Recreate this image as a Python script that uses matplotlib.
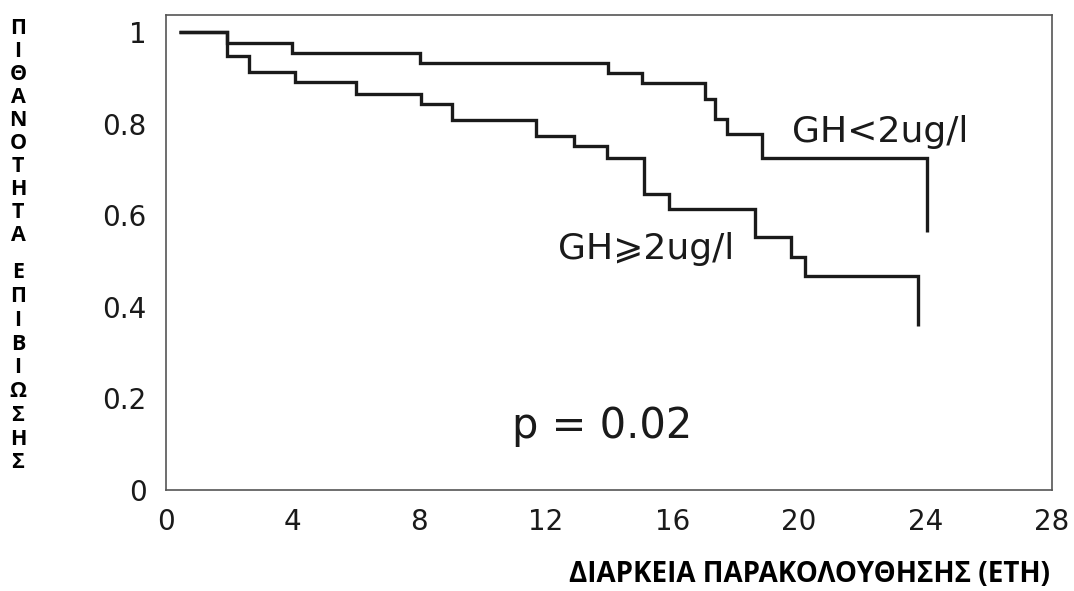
import matplotlib
matplotlib.use("Agg")
import matplotlib.pyplot as plt

# ---- data ----
low_gh_times = [0.4, 1.92, 3.97, 8.03, 13.97, 15.05, 17.04, 17.35, 17.72, 18.83, 24.04]
low_gh_surv = [1.0, 0.976, 0.954, 0.933, 0.911, 0.888, 0.854, 0.811, 0.777, 0.726, 0.563]

high_gh_times = [0.4, 1.92, 2.63, 4.08, 6.0, 8.05, 9.03, 11.7, 12.9, 13.95, 15.1, 15.9,
                 18.62, 19.74, 20.2, 23.78]
high_gh_surv = [1.0, 0.948, 0.913, 0.892, 0.865, 0.844, 0.809, 0.774, 0.752, 0.726, 0.646,
                0.613, 0.552, 0.509, 0.467, 0.358]

x_ticks = [0, 4, 8, 12, 16, 20, 24, 28]
y_ticks = [0, 0.2, 0.4, 0.6, 0.8, 1.0]
y_tick_labels = ["0", "0.2", "0.4", "0.6", "0.8", "1"]

label_low = "GH<2ug/l"
label_high = "GH\u2a7e2ug/l"
p_text = "p = 0.02"
ylabel_words = ["ΠΙΘΑΝΟΤΗΤΑ", "ΕΠΙΒΙΩΣΗΣ"]
xlabel_text = "ΔΙΑΡΚΕΙΑ ΠΑΡΑΚΟΛΟΥΘΗΣΗΣ (ΕΤΗ)"

W, H = 1074, 591
fig = plt.figure(figsize=(W / 100, H / 100), dpi=100)
ax = fig.add_axes([166 / W, 1 - 490 / H, (1052 - 166) / W, (490 - 15) / H])

line_kw = dict(color="#1a1a1a", lw=2.4, solid_joinstyle="miter", solid_capstyle="butt")
ax.step(low_gh_times, low_gh_surv, where="post", **line_kw)
ax.step(high_gh_times, high_gh_surv, where="post", **line_kw)

ax.set_xlim(0, 28)
ax.set_ylim((496 - 490) / 463.6, (496 - 15) / 463.6)

ax.set_xticks(x_ticks)
ax.set_xticklabels([str(t) for t in x_ticks], fontsize=20, family="DejaVu Sans", color="#1a1a1a")
ax.set_yticks(y_ticks)
ax.set_yticklabels(y_tick_labels, fontsize=20, family="DejaVu Sans", color="#1a1a1a")
ax.tick_params(axis="x", length=0, pad=13)
ax.tick_params(axis="y", length=0, pad=14)

for s in ax.spines.values():
    s.set_color("#555555")
    s.set_linewidth(1.2)

ax.text(19.78, 0.761, label_low, fontsize=26, family="DejaVu Sans", color="#1a1a1a",
        ha="left", va="baseline")
ax.text(12.39, 0.505, label_high, fontsize=26, family="DejaVu Sans", color="#1a1a1a",
        ha="left", va="baseline")
ax.text(10.94, 0.114, p_text, fontsize=30, family="DejaVu Sans", color="#1a1a1a",
        ha="left", va="baseline")

# vertical stacked y label
fig.text(18 / W, 1 - 17.5 / H, "\n".join(ylabel_words[0]), family="Open Sans",
         fontweight="bold", fontsize=15.5, ha="center", va="top", linespacing=1.13,
         multialignment="center")
fig.text(18 / W, 1 - 262.5 / H, "\n".join(ylabel_words[1]), family="Open Sans",
         fontweight="bold", fontsize=15.5, ha="center", va="top", linespacing=1.17,
         multialignment="center")

fig.text(1050 / W, 1 - 574 / H, xlabel_text, family="Open Sans", fontweight="bold",
         fontsize=20, ha="right", va="center")

fig.savefig("out.png", dpi=100)
